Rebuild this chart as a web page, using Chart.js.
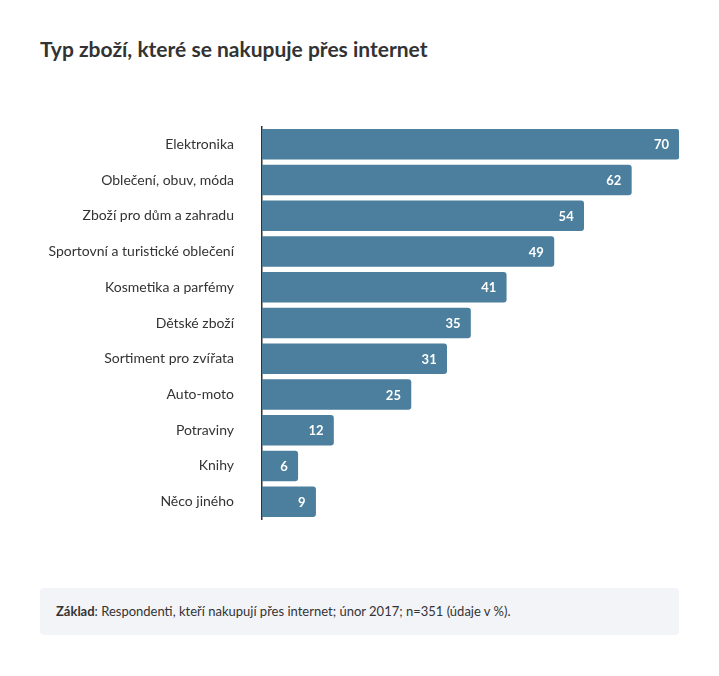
<!DOCTYPE html>
<html><head><meta charset="utf-8">
<script src="https://cdn.jsdelivr.net/npm/chart.js@4"></script>
<style>
body{margin:0;width:719px;height:676px;background:#fff;font-family:Lato,"Open Sans",sans-serif;position:relative}
h1{position:absolute;left:40px;top:36px;margin:0;font-size:21px;font-weight:700;color:#333}
#wrap{position:absolute;left:0;top:98px;width:690px;height:450px}
#note{position:absolute;left:40px;top:588px;width:639px;height:47px;background:#f3f4f8;border-radius:4px;font-size:13px;color:#333;box-sizing:border-box;padding:15px 0 0 16px}
</style></head><body>
<h1>Typ zboží, které se nakupuje přes internet</h1>
<div id="wrap"><canvas id="c"></canvas></div>
<div id="note"><b>Základ</b>: Respondenti, kteří nakupují přes internet; únor 2017; n=351 (údaje v %).</div>
<script>
const categories=["Elektronika","Oblečení, obuv, móda","Zboží pro dům a zahradu","Sportovní a turistické oblečení","Kosmetika a parfémy","Dětské zboží","Sortiment pro zvířata","Auto-moto","Potraviny","Knihy","Něco jiného"];
const values=[70,62,54,49,41,35,31,25,12,6,9];
const labelsPlugin={id:'vl',afterDatasetsDraw(ch){const ctx=ch.ctx;const meta=ch.getDatasetMeta(0);ctx.save();ctx.fillStyle='#fff';ctx.font='bold 13px Lato';ctx.textAlign='right';ctx.textBaseline='middle';meta.data.forEach((b,i)=>{ctx.fillText(values[i],b.x-10,b.y+1);});ctx.restore();}};
new Chart(document.getElementById('c'),{type:'bar',data:{labels:categories,datasets:[{data:values,backgroundColor:'#4b7f9d',barThickness:30,borderRadius:{topRight:3,bottomRight:3,topLeft:0,bottomLeft:0},borderSkipped:false}]},
options:{indexAxis:'y',responsive:true,maintainAspectRatio:false,animation:false,layout:{padding:{top:0,bottom:0,right:11,left:0}},
plugins:{legend:{display:false},tooltip:{enabled:false}},
scales:{x:{min:0,max:70,display:false},y:{afterFit(s){s.width=262;},grid:{display:false},border:{display:true,color:'#333',width:1.5},ticks:{color:'#333',font:{family:'Lato',size:14},padding:20}}}},plugins:[labelsPlugin]});
</script></body></html>
